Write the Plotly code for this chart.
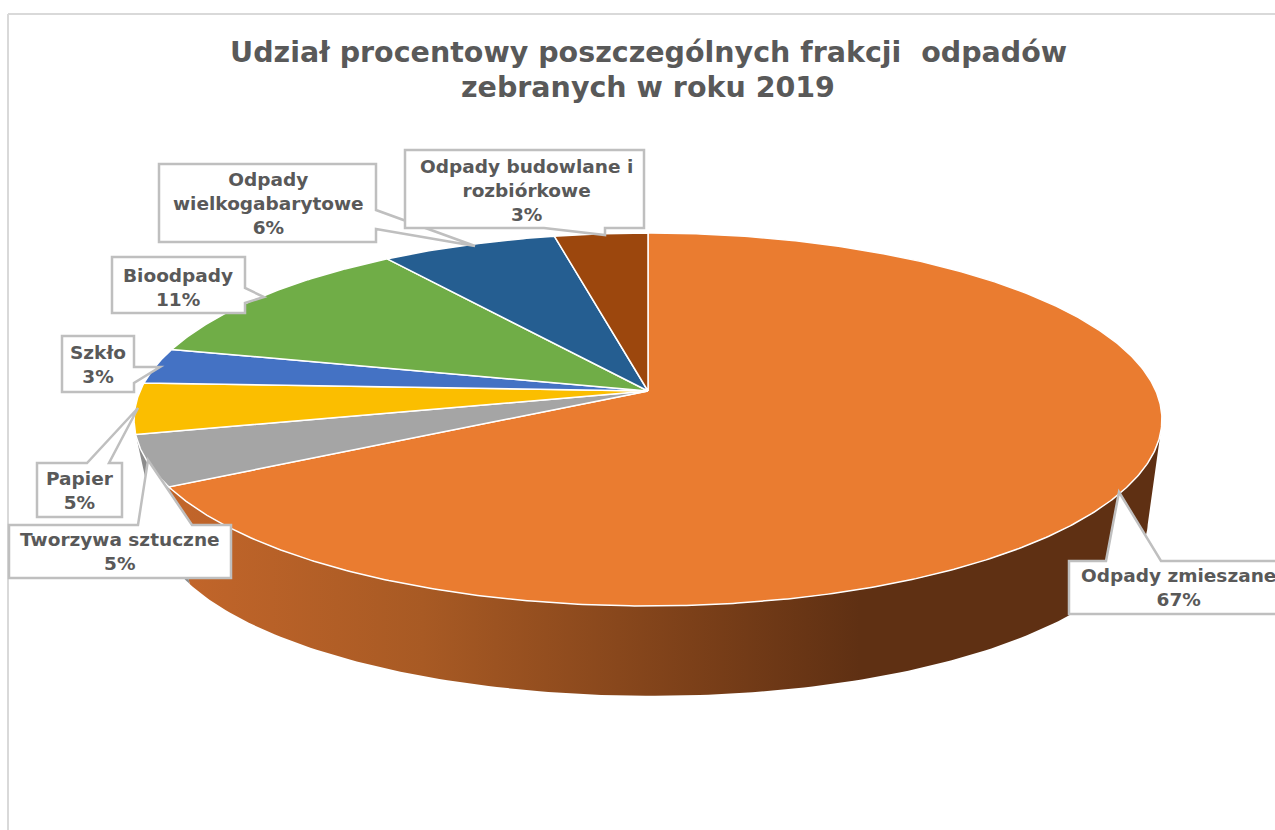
import numpy as np
import plotly.graph_objects as go

# ---- data (clockwise from 12 o'clock) ----
categories = ["Odpady zmieszane", "Tworzywa sztuczne", "Papier", "Szkło", "Bioodpady",
              "Odpady wielkogabarytowe", "Odpady budowlane i rozbiórkowe"]
values = [66.9, 4.4, 4.4, 3.1, 11.4, 6.4, 3.4]
percent_labels = ["67%", "5%", "5%", "3%", "11%", "6%", "3%"]
label_names = ["Odpady zmieszane", "Tworzywa sztuczne", "Papier", "Szkło", "Bioodpady",
               "Odpady<br>wielkogabarytowe", "Odpady budowlane i<br>rozbiórkowe"]
colors = ["#EA7C30", "#A5A5A5", "#FBBE00", "#4472C4", "#70AD47", "#255E91", "#9C470D"]
title_lines = ["Udział procentowy poszczególnych frakcji  odpadów", "zebranych w roku 2019"]

# ---- projection of the tilted pie ----
CX, CY, A, B, K = 648, 391, 507.9, 182.1, 0.1528   # top face
BCX, BY, BA, BB = 652, 494, 490, 171                # bottom face


def top(theta):
    u, v = np.sin(theta), np.cos(theta)
    w = 1 + K * v
    return CX + A * u / w, CY - B * v / w


def bottom(theta):
    u, v = np.sin(theta), np.cos(theta)
    w = 1 + K * v
    return BCX + BA * u / w, BY - BB * v / w


total = sum(values)
edges = np.cumsum([0] + values) / total * 2 * np.pi
fig = go.Figure()

# side wall of first (orange) slice with gradient
t = np.linspace(np.radians(100), edges[1], 160)
xt, yt = top(t)
xb, yb = bottom(t[::-1])
fig.add_trace(go.Scatter(
    x=np.r_[xt, xb], y=np.r_[yt, yb], mode="lines", fill="toself",
    line=dict(width=0, color="#5F3013"), hoverinfo="skip", showlegend=False,
    fillgradient=dict(type="horizontal", start=187, stop=860,
                      colorscale=[[0, "#C1652A"], [0.35, "#A85A24"], [0.75, "#7C4019"], [1, "#5F3013"]]),
))
# side wall of second (grey) slice
t = np.linspace(edges[1], edges[2], 30)
xt, yt = top(t)
xb, yb = bottom(t[::-1])
fig.add_trace(go.Scatter(x=np.r_[xt, xb], y=np.r_[yt, yb], mode="lines", fill="toself",
                         line=dict(width=0, color="#8C8C8C"), fillcolor="#8C8C8C",
                         hoverinfo="skip", showlegend=False))

# top face slices
for i, name in enumerate(categories):
    t = np.linspace(edges[i], edges[i + 1], max(12, int(values[i] * 8)))
    x, y = top(t)
    fig.add_trace(go.Scatter(
        x=np.r_[CX, x, CX], y=np.r_[CY, y, CY], mode="lines", fill="toself",
        fillcolor=colors[i], line=dict(color="white", width=1.5),
        name=name, text=percent_labels[i], hoverinfo="name+text", showlegend=False))

# ---- callouts ----
GRID = "#BFBFBF"
callouts = [
    "M 62 336 L 134 336 L 134 367 L 160 367 L 134 383 L 134 392 L 62 392 Z",
    "M 37 463 L 87 463 L 138 408 L 109 463 L 122 463 L 122 517 L 37 517 Z",
    "M 9 525 L 138 525 L 148 460 L 192 525 L 231 525 L 231 578 L 9 578 Z",
    "M 1069 561 L 1106 561 L 1119 492 L 1161 561 L 1285 561 L 1285 614 L 1069 614 Z",
    "M 112 257 L 245 257 L 245 288 L 264 297 L 245 303 L 245 313 L 112 313 Z",
    "M 159 164 L 376 164 L 376 210 L 475 246 L 376 229 L 376 242 L 159 242 Z",
    "M 405 150 L 644 150 L 644 228 L 605 228 L 605 235 L 544 228 L 405 228 Z",
]
shapes = [dict(type="path", path=p, xref="x", yref="y", fillcolor="white",
               line=dict(color=GRID, width=2.5), layer="above") for p in callouts]
shapes += [
    dict(type="line", x0=8, x1=1275, y0=14, y1=14, xref="x", yref="y",
         line=dict(color="#D9D9D9", width=2), layer="below"),
    dict(type="line", x0=8, x1=8, y0=14, y1=830, xref="x", yref="y",
         line=dict(color="#D9D9D9", width=2), layer="below"),
]

label_pos = [(1178, 587), (120, 551), (80, 490), (98, 364), (178, 287), (268, 203), (526, 190)]
FONT = "DejaVu Sans"
annotations = []
for name, pct, (lx, ly) in zip(label_names, percent_labels, label_pos):
    annotations.append(dict(x=lx, y=ly, xref="x", yref="y", text=f"<b>{name}<br>{pct}</b>",
                            showarrow=False, align="center", xanchor="center", yanchor="middle",
                            font=dict(family=FONT, size=18.5, color="#595959")))
for line, ty in zip(title_lines, (52, 87)):
    annotations.append(dict(x=648, y=ty, xref="x", yref="y", text=f"<b>{line}</b>",
                            showarrow=False, xanchor="center", yanchor="middle",
                            font=dict(family=FONT, size=28.5, color="#595959")))

fig.update_layout(
    width=1275, height=830, margin=dict(l=0, r=0, t=0, b=0),
    paper_bgcolor="white", plot_bgcolor="white", showlegend=False,
    xaxis=dict(range=[0, 1275], visible=False, fixedrange=True),
    yaxis=dict(range=[830, 0], visible=False, fixedrange=True),
    shapes=shapes, annotations=annotations,
)
fig.write_html("out.html", config={"displayModeBar": False},
               post_script="document.body.style.margin='0';document.documentElement.style.overflow='hidden';")
